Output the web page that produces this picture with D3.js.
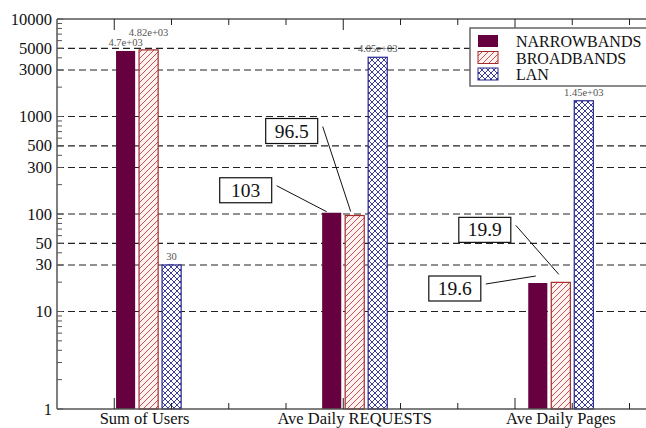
<!DOCTYPE html>
<html>
<head>
<meta charset="utf-8">
<script src="https://cdn.jsdelivr.net/npm/d3@7"></script>
<style>
  body { margin: 0; background: #fff; }
  svg { display: block; }
</style>
</head>
<body>
<svg width="646" height="428" font-family="'Liberation Serif', 'DejaVu Serif', serif"></svg>
<script>
// data
const categories = ['Sum of Users', 'Ave Daily REQUESTS', 'Ave Daily Pages'];
const seriesNames = ['NARROWBANDS', 'BROADBANDS', 'LAN'];
const narrowbands = [4700, 103, 19.6];
const broadbands = [4820, 96.5, 19.9];
const lan = [30, 4050, 1450];
const barLabels = [['4.7e+03', '4.82e+03', '30'], [null, null, '4.05e+03'], [null, null, '1.45e+03']];
const yTickLabels = [1, 10, 30, 50, 100, 300, 500, 1000, 3000, 5000, 10000];
const yGrid = [10, 30, 50, 100, 300, 500, 1000, 3000, 5000];
const xMinorTicks = [1, 2, 3, 4, 5, 6, 7, 8, 9, 10];
const xMajorTicks = [1, 5, 8];
const callouts = [
  { cat: 1, s: 1, text: '96.5', bx: -89, by: -97, ex: -4, ey: -4 },
  { cat: 1, s: 0, text: '103', bx: -112, by: -35, ex: -5, ey: -1 },
  { cat: 2, s: 1, text: '19.9', bx: -102, by: -65, ex: -2, ey: -8 },
  { cat: 2, s: 0, text: '19.6', bx: -109, by: -7, ex: -2, ey: -7 }
];

const values = [narrowbands, broadbands, lan];
const svg = d3.select('svg');
const pLeft = 57, pTop = 19, pBottom = 409, pRight = 660;

const y = d3.scaleLog().domain([1, 10000]).range([pBottom, pTop]);
const xt = d3.scaleLinear().domain([0, 10]).range([pLeft, 629.5]);
const x0 = d3.scaleBand().domain(categories).range([xt(-0.2), xt(10.6)]);
const x1 = d3.scaleBand().domain(seriesNames)
  .range([-34.5, 34.5]).paddingInner(0.17).paddingOuter(0.085);

// patterns
const defs = svg.append('defs');
const hatch = defs.append('pattern').attr('id', 'hatch')
  .attr('patternUnits', 'userSpaceOnUse').attr('width', 6).attr('height', 6);
hatch.append('rect').attr('width', 6).attr('height', 6).attr('fill', '#fff3f1');
hatch.append('path').attr('d', 'M-1,7 L7,-1 M-4,4 L4,-4 M2,10 L10,2')
  .attr('stroke', '#c83c3c').attr('stroke-width', 0.9);
const cross = defs.append('pattern').attr('id', 'cross')
  .attr('patternUnits', 'userSpaceOnUse').attr('width', 6).attr('height', 6);
cross.append('rect').attr('width', 6).attr('height', 6).attr('fill', '#fff');
cross.append('path').attr('d', 'M-1,7 L7,-1 M-4,4 L4,-4 M2,10 L10,2 M-1,-1 L7,7 M-4,2 L2,8 M4,-2 L10,4')
  .attr('stroke', '#26268f').attr('stroke-width', 0.9);

const fills = ['#66003f', 'url(#hatch)', 'url(#cross)'];
const strokes = ['#66003f', '#a52a2a', '#26268f'];

// grid
svg.append('g').selectAll('line').data(yGrid).join('line')
  .attr('x1', pLeft).attr('x2', pRight)
  .attr('y1', d => y(d)).attr('y2', d => y(d))
  .attr('stroke', '#222').attr('stroke-width', 1.2)
  .attr('stroke-dasharray', '7,4');

// bars
const bars = [];
categories.forEach((c, ci) => {
  seriesNames.forEach((s, si) => {
    bars.push({ c, ci, s, si, v: values[si][ci], label: barLabels[ci][si] });
  });
});
const barX = d => x0(d.c) + x0.bandwidth() / 2 + x1(d.s);
svg.append('g').selectAll('rect').data(bars).join('rect')
  .attr('x', barX)
  .attr('y', d => y(d.v))
  .attr('width', x1.bandwidth())
  .attr('height', d => y(1) - y(d.v))
  .attr('fill', d => fills[d.si])
  .attr('stroke', d => strokes[d.si])
  .attr('stroke-width', d => d.si === 0 ? 0 : 1.2);

// bar value labels
svg.append('g').selectAll('text').data(bars.filter(d => d.label)).join('text')
  .attr('x', d => barX(d) + x1.bandwidth() / 2)
  .attr('y', d => y(d.v) - (d.ci === 0 && d.si === 1 ? 14 : 5))
  .attr('text-anchor', 'middle')
  .attr('font-size', 10.5).attr('fill', '#555')
  .text(d => d.label);

// axes frame
const axisColor = '#555';
svg.append('line').attr('x1', pLeft).attr('x2', pRight).attr('y1', pTop).attr('y2', pTop)
  .attr('stroke', axisColor).attr('stroke-width', 1.5);
svg.append('line').attr('x1', pLeft).attr('x2', pRight).attr('y1', pBottom).attr('y2', pBottom)
  .attr('stroke', axisColor).attr('stroke-width', 1.5);
svg.append('line').attr('x1', pLeft).attr('x2', pLeft).attr('y1', pTop).attr('y2', pBottom)
  .attr('stroke', axisColor).attr('stroke-width', 1.5);

// y ticks (inward)
const yTicks = [];
for (let e = 0; e < 4; e++) for (let m = 1; m < 10; m++) yTicks.push(m * Math.pow(10, e));
yTicks.push(10000);
svg.append('g').selectAll('line').data(yTicks).join('line')
  .attr('x1', pLeft).attr('x2', d => pLeft + (yTickLabels.includes(d) ? 6 : 5))
  .attr('y1', d => y(d)).attr('y2', d => y(d))
  .attr('stroke', axisColor).attr('stroke-width', 1);
svg.append('g').selectAll('text').data(yTickLabels).join('text')
  .attr('x', pLeft - 5).attr('y', d => y(d) + 5.5)
  .attr('text-anchor', 'end').attr('font-size', 16.5).attr('fill', '#111')
  .text(d => d);

// x ticks top and bottom
const xtk = svg.append('g');
xtk.selectAll('.tb').data(xMinorTicks).join('line').attr('class', 'tb')
  .attr('x1', d => xt(d)).attr('x2', d => xt(d))
  .attr('y1', pBottom).attr('y2', d => pBottom - (xMajorTicks.includes(d) ? 11 : 6))
  .attr('stroke', '#222').attr('stroke-width', 1);
xtk.selectAll('.tt').data(xMinorTicks).join('line').attr('class', 'tt')
  .attr('x1', d => xt(d)).attr('x2', d => xt(d))
  .attr('y1', pTop).attr('y2', d => pTop + (xMajorTicks.includes(d) ? 11 : 6))
  .attr('stroke', '#222').attr('stroke-width', 1);

// category labels
svg.append('g').selectAll('text').data(categories).join('text')
  .attr('x', (d, i) => x0(d) + x0.bandwidth() / 2 - (i === 0 ? 4 : 0))
  .attr('y', 424)
  .attr('text-anchor', 'middle').attr('font-size', 16.5).attr('fill', '#111')
  .text(d => d);

// callouts
const cg = svg.append('g');
callouts.forEach(a => {
  const bx = x0(categories[a.cat]) + x0.bandwidth() / 2 + x1(seriesNames[a.s]) + x1.bandwidth() / 2;
  const by = y(values[a.s][a.cat]);
  const rx = bx + a.bx, ry = by + a.by;
  cg.append('line')
    .attr('x1', rx + 57).attr('y1', ry + 8)
    .attr('x2', bx + a.ex).attr('y2', by + a.ey)
    .attr('stroke', '#111').attr('stroke-width', 1);
  cg.append('rect').attr('x', rx).attr('y', ry).attr('width', 52).attr('height', 25)
    .attr('fill', '#fff').attr('stroke', '#111').attr('stroke-width', 1.2);
  cg.append('text').attr('x', rx + 26).attr('y', ry + 19)
    .attr('text-anchor', 'middle').attr('font-size', 19.5).attr('fill', '#111')
    .text(a.text);
});

// legend
const lg = svg.append('g').attr('transform', 'translate(470,28)');
lg.append('rect').attr('width', 190).attr('height', 58)
  .attr('fill', '#fff').attr('stroke', '#666').attr('stroke-width', 1.5);
seriesNames.forEach((s, i) => {
  lg.append('rect').attr('x', 8).attr('y', 7 + i * 16.5).attr('width', 20).attr('height', 12)
    .attr('fill', fills[i]).attr('stroke', strokes[i]).attr('stroke-width', i === 0 ? 0 : 1);
  lg.append('text').attr('x', 46).attr('y', 19 + i * 16.5)
    .attr('font-size', 16).attr('fill', '#111').text(s);
});
</script>
</body>
</html>
